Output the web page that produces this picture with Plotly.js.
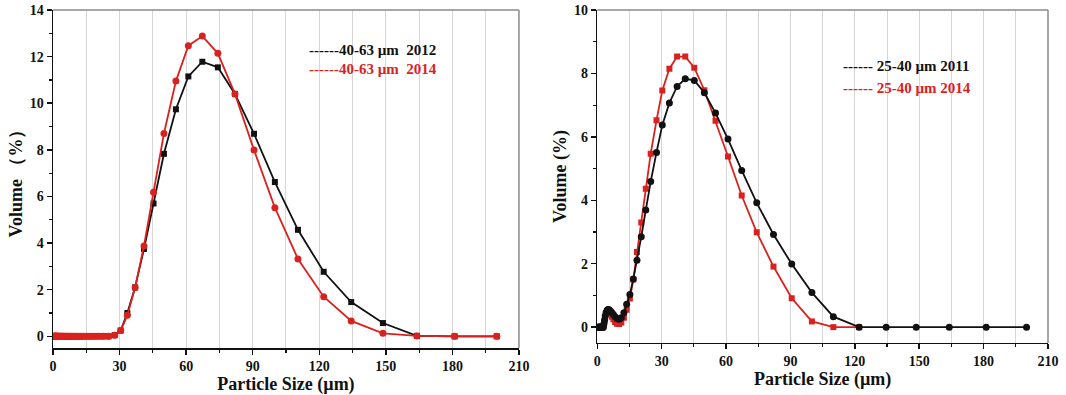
<!DOCTYPE html>
<html>
<head>
<meta charset="utf-8">
<script src="https://cdn.plot.ly/plotly-3.0.1.min.js"></script>
<style>html,body{margin:0;padding:0;background:#fff;}#chart{width:1066px;height:395px;}</style>
</head>
<body>
<div id="chart"></div>
<script>
// ---- Left panel: 40-63 µm ----
var sizeLeft = [0.4, 0.5, 0.6, 0.7, 0.8, 0.9, 1.0, 1.1, 1.3, 1.4,
  1.6, 1.8, 2.0, 2.2, 2.5, 2.8, 3.1, 3.4, 3.7, 4.1,
  4.6, 5.0, 5.6, 6.2, 6.8, 7.5, 8.3, 9.2, 10.2, 11.2,
  12.4, 13.7, 15.2, 16.8, 18.5, 20.5, 22.6, 25.0,
  27.8, 30.5, 33.5, 37.0, 41.0, 45.3, 50.0, 55.4, 61.0, 67.3,
  74.3, 82.0, 90.6, 100, 110.4, 122, 134.4, 148.7, 164, 181, 200];
var vol2012 = [0,0,0,0,0,0,0,0,0,0,
  0,0,0,0,0,0,0,0,0,0,
  0,0,0,0,0,0,0,0,0,0,
  0,0,0,0,0,0,0,0,
  0.05, 0.25, 1.0, 2.1, 3.75, 5.7, 7.83, 9.74, 11.15, 11.78,
  11.54, 10.4, 8.69, 6.62, 4.57, 2.77, 1.47, 0.57, 0.02, 0, 0];
var vol2014L = [0,0,0,0,0,0,0,0,0,0,
  0,0,0,0,0,0,0,0,0,0,
  0,0,0,0,0,0,0,0,0,0,
  0,0,0,0,0,0,0,0,
  0.05, 0.25, 0.9, 2.1, 3.88, 6.18, 8.7, 10.95, 12.47, 12.88,
  12.14, 10.4, 7.99, 5.52, 3.32, 1.7, 0.66, 0.13, 0.02, 0, 0];

// ---- Right panel: 25-40 µm ----
var sizeRight = [0.5, 0.6, 0.7, 0.8, 0.9, 1.0, 1.1, 1.3, 1.4, 1.6,
  1.8, 2.0, 2.2, 2.5, 2.8, 3.1, 3.4, 3.7, 4.1, 4.6,
  5.0, 5.6, 6.2, 6.8, 7.5, 8.3, 9.2, 10.2, 11.2, 12.4,
  13.7, 15.2, 16.8, 18.5, 20.5, 22.6, 24.9, 27.6, 30.3, 33.6,
  37.2, 41.0, 45.2, 49.9, 55.1, 60.9, 67.3, 74.3, 82.1, 90.6,
  100, 110, 122, 134.6, 148.6, 164, 181.2, 200];
var vol2011 = [0,0,0,0,0,0,0,0,0,0,
  0,0,0,0,0,0.1, 0.22, 0.35, 0.46, 0.53,
  0.56, 0.55, 0.5, 0.45, 0.4, 0.33, 0.27, 0.25, 0.3, 0.45,
  0.72, 1.03, 1.52, 2.11, 2.85, 3.69, 4.59, 5.51, 6.37, 7.07,
  7.59, 7.83, 7.78, 7.39, 6.75, 5.93, 4.94, 3.92, 2.92, 1.99,
  1.09, 0.33, 0, 0, 0, 0, 0, 0];
var vol2014R = [0,0,0,0,0,0,0,0,0,0,
  0,0,0,0,0,0.08, 0.2, 0.32, 0.42, 0.48,
  0.5, 0.48, 0.42, 0.33, 0.25, 0.16, 0.11, 0.1, 0.15, 0.3,
  0.55, 0.9, 1.5, 2.37, 3.3, 4.36, 5.47, 6.52, 7.46, 8.15,
  8.53, 8.53, 8.18, 7.47, 6.51, 5.38, 4.15, 2.99, 1.91, 0.91,
  0.18, 0.0, 0];

var legendLeft = ['------40-63 µm\u00a0\u00a02012', '------40-63 µm\u00a0\u00a02014'];
var legendRight = ['------ 25-40 µm 2011', '------ 25-40 µm 2014'];
var xTitle = 'Particle Size (µm)';
var yTitleLeft = 'Volume （%）';
var yTitleRight = 'Volume (%)';

var BLACK = '#111111';
var RED = '#d9221f';
var FONT = 'Liberation Serif, Times New Roman, serif';

var traces = [
  {x: sizeLeft, y: vol2012, xaxis: 'x', yaxis: 'y', mode: 'lines+markers',
   line: {color: BLACK, width: 1.8}, marker: {symbol: 'square', size: 6, color: BLACK}},
  {x: sizeLeft, y: vol2014L, xaxis: 'x', yaxis: 'y', mode: 'lines+markers',
   line: {color: RED, width: 1.8}, marker: {symbol: 'circle', size: 7, color: RED}},
  {x: sizeRight.slice(0, vol2014R.length), y: vol2014R, xaxis: 'x2', yaxis: 'y2', mode: 'lines+markers',
   line: {color: RED, width: 1.8}, marker: {symbol: 'square', size: 6, color: RED}},
  {x: sizeRight, y: vol2011, xaxis: 'x2', yaxis: 'y2', mode: 'lines+markers',
   line: {color: BLACK, width: 1.8}, marker: {symbol: 'circle', size: 7, color: BLACK}}
];

var tickFont = {family: FONT, size: 14, color: '#111', weight: 'bold'};
var titleFont = {family: FONT, size: 18, color: '#111', weight: 'bold'};

function xAxis(domain, anchor) {
  return {
    domain: domain, anchor: anchor, range: [0, 210], dtick: 30, tick0: 0,
    showgrid: true, gridcolor: '#d6d6d6', gridwidth: 1,
    zeroline: false, showline: true, linecolor: '#111', linewidth: 1.5,
    ticks: 'outside', ticklen: 5, tickwidth: 1.5, tickcolor: '#111',
    tickfont: tickFont, ticklabelstandoff: 0,
    minor: {dtick: 15, tick0: 0, ticks: 'outside', ticklen: 3, tickwidth: 1.2, tickcolor: '#111',
            showgrid: true, gridcolor: '#d6d6d6', gridwidth: 1},
    title: {text: xTitle, font: titleFont, standoff: 3}
  };
}
function yAxis(domain, anchor, range, title) {
  return {
    domain: domain, anchor: anchor, range: range, dtick: 2, tick0: 0,
    showgrid: false, zeroline: false, showline: true, linecolor: '#111', linewidth: 1.5,
    ticks: 'outside', ticklen: 5, tickwidth: 1.5, tickcolor: '#111',
    tickfont: tickFont,
    minor: {dtick: 1, tick0: 0, ticks: 'outside', ticklen: 3, tickwidth: 1.2, tickcolor: '#111', showgrid: false},
    title: {text: title, font: titleFont, standoff: 2}
  };
}

var shapes = [];
[['x', 'y'], ['x2', 'y2']].forEach(function (p) {
  shapes.push({type: 'line', xref: p[0] + ' domain', yref: p[1] + ' domain', x0: 0, x1: 1, y0: 1, y1: 1,
               line: {color: '#8a8a8a', width: 1.5}});
  shapes.push({type: 'line', xref: p[0] + ' domain', yref: p[1] + ' domain', x0: 1, x1: 1, y0: 0, y1: 1,
               line: {color: '#8a8a8a', width: 1.5}});
});

var annFont = function (c) { return {family: FONT, size: 15, color: c, weight: 'bold'}; };
var annotations = [
  {xref: 'x', yref: 'y', x: 114.5, y: 12.3, xanchor: 'left', yanchor: 'middle', showarrow: false,
   text: legendLeft[0], font: annFont(BLACK)},
  {xref: 'x', yref: 'y', x: 114.5, y: 11.45, xanchor: 'left', yanchor: 'middle', showarrow: false,
   text: legendLeft[1], font: annFont(RED)},
  {xref: 'x2', yref: 'y2', x: 113.6, y: 8.22, xanchor: 'left', yanchor: 'middle', showarrow: false,
   text: legendRight[0], font: annFont(BLACK)},
  {xref: 'x2', yref: 'y2', x: 113.6, y: 7.55, xanchor: 'left', yanchor: 'middle', showarrow: false,
   text: legendRight[1], font: annFont(RED)}
];

var layout = {
  width: 1066, height: 395,
  margin: {l: 53, r: 18, t: 10, b: 47},
  paper_bgcolor: '#fff', plot_bgcolor: '#fff',
  showlegend: false,
  xaxis: xAxis([0, 0.4683], 'y'),
  yaxis: yAxis([0, 1], 'x', [-0.5, 14], yTitleLeft),
  xaxis2: xAxis([0.547, 1], 'y2'),
  yaxis2: yAxis([0.0148, 1], 'x2', [-0.5, 10], yTitleRight),
  shapes: shapes,
  annotations: annotations
};

Plotly.newPlot('chart', traces, layout, {displayModeBar: false, staticPlot: true});
</script>
</body>
</html>
